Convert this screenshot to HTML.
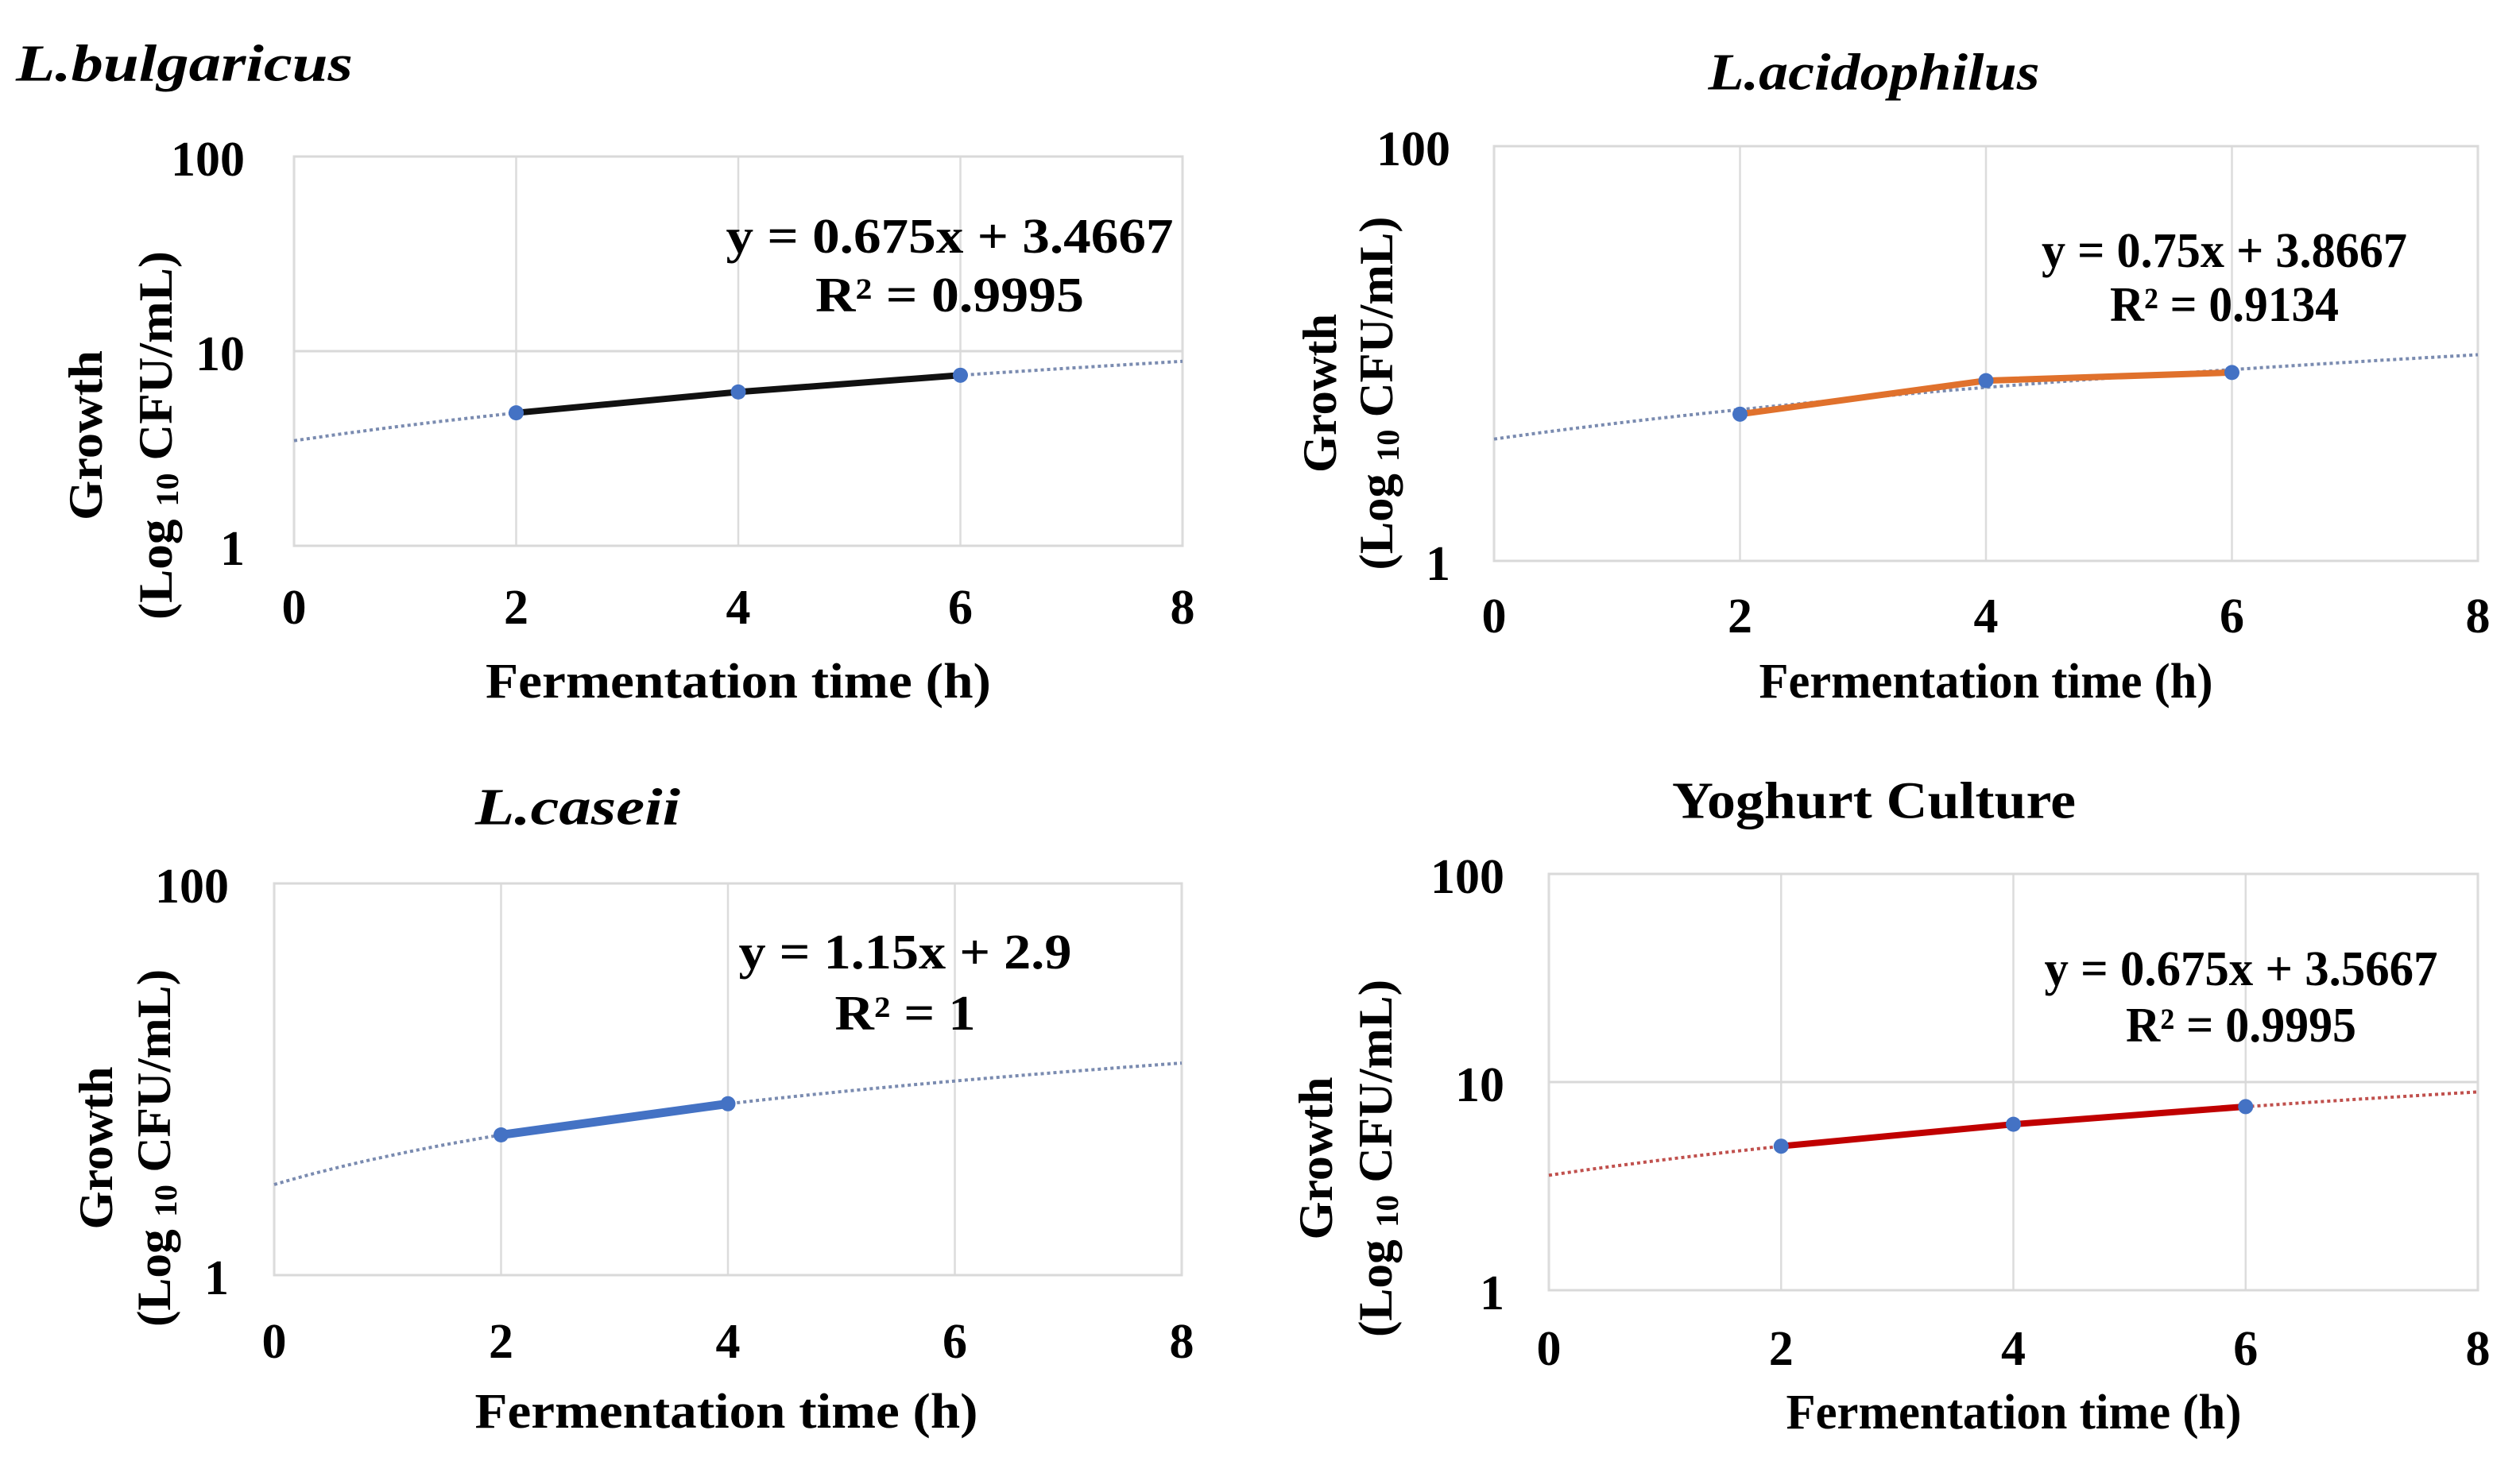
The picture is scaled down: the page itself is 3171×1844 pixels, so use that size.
<!DOCTYPE html>
<html><head><meta charset="utf-8"><style>
html,body{margin:0;padding:0;background:#fff;}
svg{display:block;}
text{font-family:"Liberation Serif",serif;font-weight:bold;fill:#000;}
</style></head>
<body>
<svg id="fig" width="3171" height="1844" viewBox="0 0 3171 1844" xmlns="http://www.w3.org/2000/svg"></svg>
<script>
// ---- data ----
const xTicks = [0, 2, 4, 6, 8];
const bulgaricusX = [2, 4, 6];
const bulgaricusY = [4.82, 6.17, 7.52];
const acidophilusX = [2, 4, 6];
const acidophilusY = [5.1, 7.4, 8.1];
const caseiiX = [2, 4];
const caseiiY = [5.2, 7.5];
const yoghurtX = [2, 4, 6];
const yoghurtY = [4.92, 6.27, 7.62];
const bulgaricusFit = [0.675, 3.4667];
const acidophilusFit = [0.75, 3.8667];
const caseiiFit = [1.15, 2.9];
const yoghurtFit = [0.675, 3.5667];
const eqLabels = ["y = 0.675x + 3.4667", "y = 0.75x + 3.8667", "y = 1.15x + 2.9", "y = 0.675x + 3.5667"];
const r2Labels = ["R\u00B2 = 0.9995", "R\u00B2 = 0.9134", "R\u00B2 = 1", "R\u00B2 = 0.9995"];

const NS = "http://www.w3.org/2000/svg";
const svg = document.getElementById('fig');
function mk(tag, attrs, parent, txt){
  const e = document.createElementNS(NS, tag);
  for (const k in attrs) e.setAttribute(k, attrs[k]);
  if (txt !== undefined) e.textContent = txt;
  (parent || svg).appendChild(e);
  return e;
}

const panels = [
 {key:'bulgaricus', title:'L.bulgaricus', italic:true, titleX:20, titleAnchor:'start', titleY:80, titleW:424,
  L:370, R:1488, T:197, B:687, yTicks:[1,10,100], ylabR:308,
  tickY:765, xtX:929, xtY:858, xtW:636,
  yt1X:108, yt2X:196, ytY:548, ytW1:214, ytW2:464,
  eqX:1195, eqY1:298, eqY2:372, eqW:563, r2W:338,
  xs:bulgaricusX, ys:bulgaricusY, fit:bulgaricusFit, line:'#111111', lw:8, trend:'#7a8bb0', idx:0},
 {key:'acidophilus', title:'L.acidophilus', italic:true, titleX:2358, titleAnchor:'middle', titleY:91, titleW:417,
  L:1880, R:3118, T:184, B:706, yTicks:[1,100], ylabR:1825,
  tickY:776, xtX:2499, xtY:858, xtW:571,
  yt1X:1661, yt2X:1732, ytY:495, ytW1:200, ytW2:445,
  eqX:2799, eqY1:316, eqY2:384, eqW:460, r2W:288,
  xs:acidophilusX, ys:acidophilusY, fit:acidophilusFit, line:'#e0712c', lw:8, trend:'#7a8bb0', idx:1},
 {key:'caseii', title:'L.caseii', italic:true, titleX:727, titleAnchor:'middle', titleY:1016, titleW:258,
  L:345, R:1487, T:1112, B:1605, yTicks:[1,100], ylabR:288,
  tickY:1689, xtX:914, xtY:1777, xtW:633,
  yt1X:121, yt2X:194, ytY:1445, ytW1:205, ytW2:450,
  eqX:1139, eqY1:1199, eqY2:1276, eqW:419, r2W:177,
  xs:caseiiX, ys:caseiiY, fit:caseiiFit, line:'#4472c4', lw:11, trend:'#7a8bb0', idx:2},
 {key:'yoghurt', title:'Yoghurt Culture', italic:false, titleX:2358, titleAnchor:'middle', titleY:1008, titleW:508,
  L:1949, R:3118, T:1100, B:1624, yTicks:[1,10,100], ylabR:1893,
  tickY:1698, xtX:2534, xtY:1778, xtW:573,
  yt1X:1656, yt2X:1731, ytY:1458, ytW1:205, ytW2:450,
  eqX:2820, eqY1:1220, eqY2:1291, eqW:495, r2W:290,
  xs:yoghurtX, ys:yoghurtY, fit:yoghurtFit, line:'#c00000', lw:8, trend:'#c0504d', idx:3}
];

panels.forEach(p => {
  const g = mk('g', {});
  
  
  const sx = v => p.L + (v - 0) / 8 * (p.R - p.L);
  const sy = v => p.B - (Math.log10(v) - 0) / 2 * (p.B - p.T);

  // title
  const t = mk('text', {x:p.titleX, y:p.titleY, 'font-size':66, 'text-anchor':p.titleAnchor,
    'dominant-baseline':'central', 'font-style':p.italic?'italic':'normal',
    textLength:p.titleW, lengthAdjust:'spacingAndGlyphs'}, g, p.title);
  
  

  // plot area bg
  const bg = mk('rect', {x:p.L, y:p.T, width:p.R-p.L, height:p.B-p.T, fill:'#fff', stroke:'#d9d9d9', 'stroke-width':3}, g);
  
  

  // gridlines
  xTicks.forEach(v => {
    const l = mk('line', {x1:sx(v), x2:sx(v), y1:p.T, y2:p.B, stroke:'#dcdcdc', 'stroke-width':2.5}, g);
    
    
    const tl = mk('text', {x:sx(v), y:p.tickY, 'font-size':62, 'text-anchor':'middle', 'dominant-baseline':'central'}, g, String(v));
    
    
  });
  p.yTicks.forEach(v => {
    const l = mk('line', {x1:p.L, x2:p.R, y1:sy(v), y2:sy(v), stroke:'#d9d9d9', 'stroke-width':3}, g);
    
    
    const tl = mk('text', {x:p.ylabR, y:sy(v)+4, 'font-size':62, 'text-anchor':'end', 'dominant-baseline':'central'}, g, String(v));
    
    
  });

  // trendline (linear fit on log axis)
  let d = '';
  for (let i = 0; i <= 80; i++) {
    const xv = i / 10;
    const yv = p.fit[0] * xv + p.fit[1];
    d += (i ? 'L' : 'M') + sx(xv).toFixed(1) + ',' + sy(yv).toFixed(1);
  }
  const tr = mk('path', {d:d, fill:'none', stroke:p.trend, 'stroke-width':4, 'stroke-dasharray':'4 4'}, g);
  
  

  // series line
  let sd = '';
  p.xs.forEach((xv, i) => { sd += (i ? 'L' : 'M') + sx(xv).toFixed(1) + ',' + sy(p.ys[i]).toFixed(1); });
  const sl = mk('path', {d:sd, fill:'none', stroke:p.line, 'stroke-width':p.lw, 'stroke-linejoin':'round', 'stroke-linecap':'round'}, g);
  
  
  p.xs.forEach((xv, i) => {
    const c = mk('circle', {cx:sx(xv), cy:sy(p.ys[i]), r:9.5, fill:'#4472c4'}, g);
    
    
  });

  // equation
  const e1 = mk('text', {x:p.eqX, y:p.eqY1, 'font-size':62, 'text-anchor':'middle', 'dominant-baseline':'central',
    textLength:p.eqW, lengthAdjust:'spacingAndGlyphs'}, g, eqLabels[p.idx]);
  
  
  const e2 = mk('text', {x:p.eqX, y:p.eqY2, 'font-size':62, 'text-anchor':'middle', 'dominant-baseline':'central',
    textLength:p.r2W, lengthAdjust:'spacingAndGlyphs'}, g, r2Labels[p.idx]);
  
  

  // x title
  const xt = mk('text', {x:p.xtX, y:p.xtY, 'font-size':62, 'text-anchor':'middle', 'dominant-baseline':'central',
    textLength:p.xtW, lengthAdjust:'spacingAndGlyphs'}, g, 'Fermentation time (h)');
  
  

  // y title
  const y1 = mk('text', {x:0, y:0, 'font-size':60, 'text-anchor':'middle', 'dominant-baseline':'central',
    transform:'translate(' + p.yt1X + ',' + p.ytY + ') rotate(-90)', textLength:p.ytW1, lengthAdjust:'spacingAndGlyphs'}, g, 'Growth');
  
  
  const y2 = mk('text', {x:0, y:0, 'font-size':60, 'text-anchor':'middle', 'dominant-baseline':'central',
    transform:'translate(' + p.yt2X + ',' + p.ytY + ') rotate(-90)'}, g);
  
  
  mk('tspan', {}, y2, '(Log ');
  mk('tspan', {'font-size':40, dy:14}, y2, '10');
  mk('tspan', {dy:-14}, y2, ' CFU/mL)');
  y2.setAttribute('textLength', p.ytW2);
  y2.setAttribute('lengthAdjust', 'spacingAndGlyphs');
});
</script>
</body></html>
